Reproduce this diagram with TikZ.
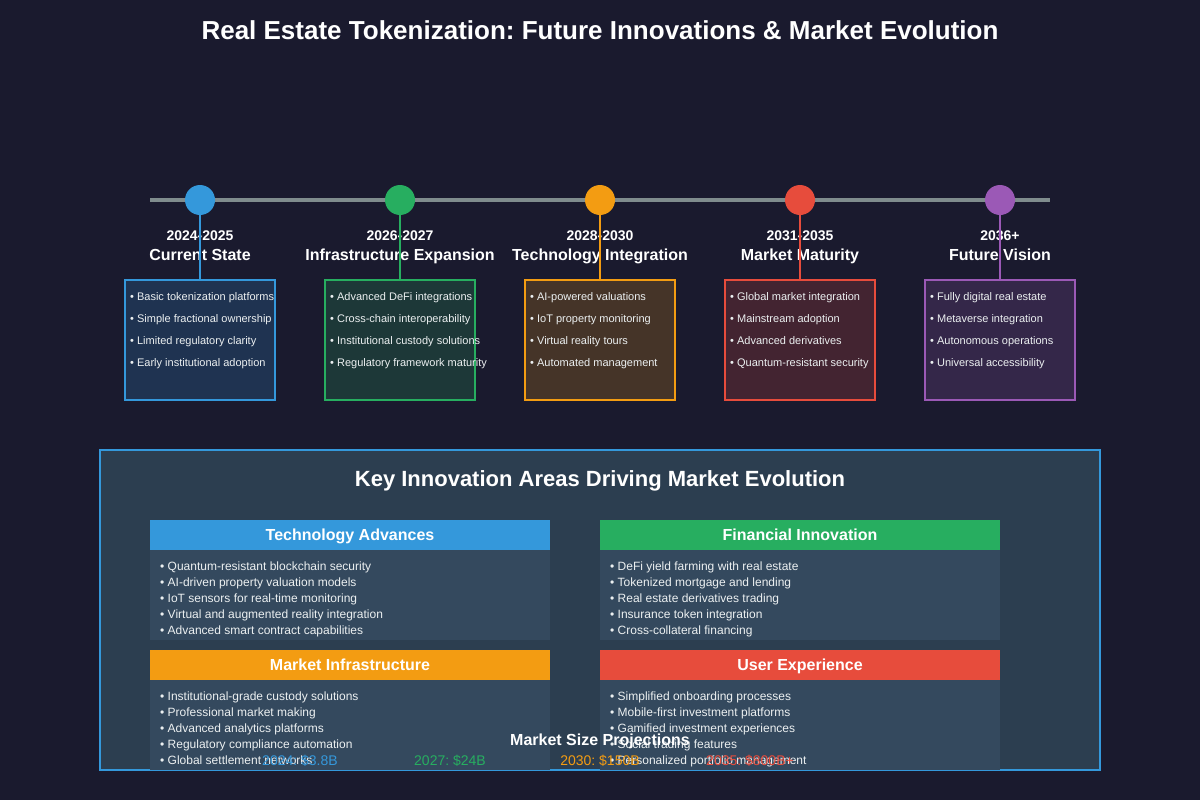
\documentclass[tikz,border=0pt]{standalone}
\usepackage{fontspec}
\setmainfont{Liberation Sans}
\frenchspacing
\usetikzlibrary{positioning}
\definecolor{rebg}{HTML}{1A1A2E}
\definecolor{reblue}{HTML}{3498DB}
\definecolor{regreen}{HTML}{27AE60}
\definecolor{reorange}{HTML}{F39C12}
\definecolor{rered}{HTML}{E74C3C}
\definecolor{repurple}{HTML}{9B59B6}
\definecolor{regray}{HTML}{7F8C8D}
\definecolor{repanel}{HTML}{2C3E50}
\definecolor{recard}{HTML}{34495E}
\definecolor{retext}{HTML}{ECF0F1}

\begin{document}
\begin{tikzpicture}[
	x=1pt, y=-1pt,
	% Node styles
	milestone/.style={
		circle,
		fill=#1,
		minimum size=30pt,
		inner sep=0pt
	},
	phasebox/.style={
		rectangle,
		draw=#1,
		fill=#1!20!rebg,
		line width=2pt,
		minimum width=150pt,
		minimum height=120pt,
		inner sep=0pt
	},
	stem/.style={
		draw=#1,
		line width=2pt
	},
	timeline/.style={
		draw=regray,
		line width=4pt
	},
	yearlabel/.style={
		font=\fontsize{14}{16}\selectfont\bfseries,
		text=white,
		anchor=base,
		inner sep=0pt
	},
	phaselabel/.style={
		font=\fontsize{16}{19}\selectfont\bfseries,
		text=white,
		anchor=base,
		inner sep=0pt
	},
	subitem/.style={
		font=\fontsize{11}{13}\selectfont,
		text=retext,
		anchor=base west,
		inner sep=0pt
	},
	panel/.style={
		rectangle,
		draw=reblue,
		fill=repanel,
		line width=2pt,
		minimum width=1000pt,
		minimum height=320pt,
		inner sep=0pt
	},
	cardhead/.style={
		rectangle,
		fill=#1,
		minimum width=400pt,
		minimum height=30pt,
		inner sep=0pt
	},
	cardbody/.style={
		rectangle,
		fill=recard,
		minimum width=400pt,
		minimum height=90pt,
		inner sep=0pt
	},
	cardtitle/.style={
		font=\fontsize{16}{19}\selectfont\bfseries,
		text=white,
		anchor=base,
		inner sep=0pt
	},
	carditem/.style={
		font=\fontsize{12}{14}\selectfont,
		text=retext,
		anchor=base west,
		inner sep=0pt
	},
	projection/.style={
		font=\fontsize{14}{16}\selectfont,
		text=#1,
		anchor=base,
		inner sep=0pt
	}
	]
	
	% Background
	\fill[rebg] (0,0) rectangle (1200,800);
	
	% Title
	\node[font=\fontsize{26}{30}\selectfont\bfseries, text=white, anchor=base, inner sep=0pt] (maintitle) at (600,40) {Real Estate Tokenization: Future Innovations \& Market Evolution};
	
	% Timeline axis
	\coordinate (tlstart) at (150,200);
	\coordinate (tlend) at (1050,200);
	\draw[timeline] (tlstart) -- (tlend);
	
	% Phase boxes
	\node[phasebox=reblue] (phase1) at (200,340) {};
	\node[subitem] (phase1a) at (130,300) {\textbullet\ Basic tokenization platforms};
	\node[subitem] (phase1b) at (130,322) {\textbullet\ Simple fractional ownership};
	\node[subitem] (phase1c) at (130,344) {\textbullet\ Limited regulatory clarity};
	\node[subitem] (phase1d) at (130,366) {\textbullet\ Early institutional adoption};
	
	\node[phasebox=regreen] (phase2) at (400,340) {};
	\node[subitem] (phase2a) at (330,300) {\textbullet\ Advanced DeFi integrations};
	\node[subitem] (phase2b) at (330,322) {\textbullet\ Cross-chain interoperability};
	\node[subitem] (phase2c) at (330,344) {\textbullet\ Institutional custody solutions};
	\node[subitem] (phase2d) at (330,366) {\textbullet\ Regulatory framework maturity};
	
	\node[phasebox=reorange] (phase3) at (600,340) {};
	\node[subitem] (phase3a) at (530,300) {\textbullet\ AI-powered valuations};
	\node[subitem] (phase3b) at (530,322) {\textbullet\ IoT property monitoring};
	\node[subitem] (phase3c) at (530,344) {\textbullet\ Virtual reality tours};
	\node[subitem] (phase3d) at (530,366) {\textbullet\ Automated management};
	
	\node[phasebox=rered] (phase4) at (800,340) {};
	\node[subitem] (phase4a) at (730,300) {\textbullet\ Global market integration};
	\node[subitem] (phase4b) at (730,322) {\textbullet\ Mainstream adoption};
	\node[subitem] (phase4c) at (730,344) {\textbullet\ Advanced derivatives};
	\node[subitem] (phase4d) at (730,366) {\textbullet\ Quantum-resistant security};
	
	\node[phasebox=repurple] (phase5) at (1000,340) {};
	\node[subitem] (phase5a) at (930,300) {\textbullet\ Fully digital real estate};
	\node[subitem] (phase5b) at (930,322) {\textbullet\ Metaverse integration};
	\node[subitem] (phase5c) at (930,344) {\textbullet\ Autonomous operations};
	\node[subitem] (phase5d) at (930,366) {\textbullet\ Universal accessibility};
	
	% Years and phase names
	\node[yearlabel] (year1) at (200,240) {2024-2025};
	\node[phaselabel] (name1) at (200,260) {Current State};
	\node[yearlabel] (year2) at (400,240) {2026-2027};
	\node[phaselabel] (name2) at (400,260) {Infrastructure Expansion};
	\node[yearlabel] (year3) at (600,240) {2028-2030};
	\node[phaselabel] (name3) at (600,260) {Technology Integration};
	\node[yearlabel] (year4) at (800,240) {2031-2035};
	\node[phaselabel] (name4) at (800,260) {Market Maturity};
	\node[yearlabel] (year5) at (1000,240) {2036+};
	\node[phaselabel] (name5) at (1000,260) {Future Vision};
	
	% Milestones
	\node[milestone=reblue] (mile1) at (200,200) {};
	\node[milestone=regreen] (mile2) at (400,200) {};
	\node[milestone=reorange] (mile3) at (600,200) {};
	\node[milestone=rered] (mile4) at (800,200) {};
	\node[milestone=repurple] (mile5) at (1000,200) {};
	
	% Stems from milestones to boxes
	\draw[stem=reblue] (mile1.south) -- (phase1.north);
	\draw[stem=regreen] (mile2.south) -- (phase2.north);
	\draw[stem=reorange] (mile3.south) -- (phase3.north);
	\draw[stem=rered] (mile4.south) -- (phase4.north);
	\draw[stem=repurple] (mile5.south) -- (phase5.north);
	
	% Innovation panel
	\node[panel] (innovpanel) at (600,610) {};
	\node[font=\fontsize{22}{26}\selectfont\bfseries, text=white, anchor=base, inner sep=0pt] (innovtitle) at (600,486) {Key Innovation Areas Driving Market Evolution};
	
	% Technology card
	\node[cardhead=reblue] (techhead) at (350,535) {};
	\node[cardbody] (techbody) at (350,595) {};
	\node[cardtitle] (techtitle) at (350,540) {Technology Advances};
	\node[carditem] (tech1) at (160,570) {\textbullet\ Quantum-resistant blockchain security};
	\node[carditem] (tech2) at (160,586) {\textbullet\ AI-driven property valuation models};
	\node[carditem] (tech3) at (160,602) {\textbullet\ IoT sensors for real-time monitoring};
	\node[carditem] (tech4) at (160,618) {\textbullet\ Virtual and augmented reality integration};
	\node[carditem] (tech5) at (160,634) {\textbullet\ Advanced smart contract capabilities};
	
	% Financial card
	\node[cardhead=regreen] (finhead) at (800,535) {};
	\node[cardbody] (finbody) at (800,595) {};
	\node[cardtitle] (fintitle) at (800,540) {Financial Innovation};
	\node[carditem] (fin1) at (610,570) {\textbullet\ DeFi yield farming with real estate};
	\node[carditem] (fin2) at (610,586) {\textbullet\ Tokenized mortgage and lending};
	\node[carditem] (fin3) at (610,602) {\textbullet\ Real estate derivatives trading};
	\node[carditem] (fin4) at (610,618) {\textbullet\ Insurance token integration};
	\node[carditem] (fin5) at (610,634) {\textbullet\ Cross-collateral financing};
	
	% Infrastructure card
	\node[cardhead=reorange] (infrahead) at (350,665) {};
	\node[cardbody] (infrabody) at (350,725) {};
	\node[cardtitle] (infratitle) at (350,670) {Market Infrastructure};
	\node[carditem] (infra1) at (160,700) {\textbullet\ Institutional-grade custody solutions};
	\node[carditem] (infra2) at (160,716) {\textbullet\ Professional market making};
	\node[carditem] (infra3) at (160,732) {\textbullet\ Advanced analytics platforms};
	\node[carditem] (infra4) at (160,748) {\textbullet\ Regulatory compliance automation};
	\node[carditem] (infra5) at (160,764) {\textbullet\ Global settlement networks};
	
	% User experience card
	\node[cardhead=rered] (uxhead) at (800,665) {};
	\node[cardbody] (uxbody) at (800,725) {};
	\node[cardtitle] (uxtitle) at (800,670) {User Experience};
	\node[carditem] (ux1) at (610,700) {\textbullet\ Simplified onboarding processes};
	\node[carditem] (ux2) at (610,716) {\textbullet\ Mobile-first investment platforms};
	\node[carditem] (ux3) at (610,732) {\textbullet\ Gamified investment experiences};
	\node[carditem] (ux4) at (610,748) {\textbullet\ Social trading features};
	\node[carditem] (ux5) at (610,764) {\textbullet\ Personalized portfolio management};
	
	% Market size projections
	\node[cardtitle] (projtitle) at (600,745) {Market Size Projections};
	\node[projection=reblue] (proj1) at (300,765) {2024: \$3.8B};
	\node[projection=regreen] (proj2) at (450,765) {2027: \$24B};
	\node[projection=reorange] (proj3) at (600,765) {2030: \$150B};
	\node[projection=rered] (proj4) at (750,765) {2035: \$800B+};
	
\end{tikzpicture}
\end{document}
